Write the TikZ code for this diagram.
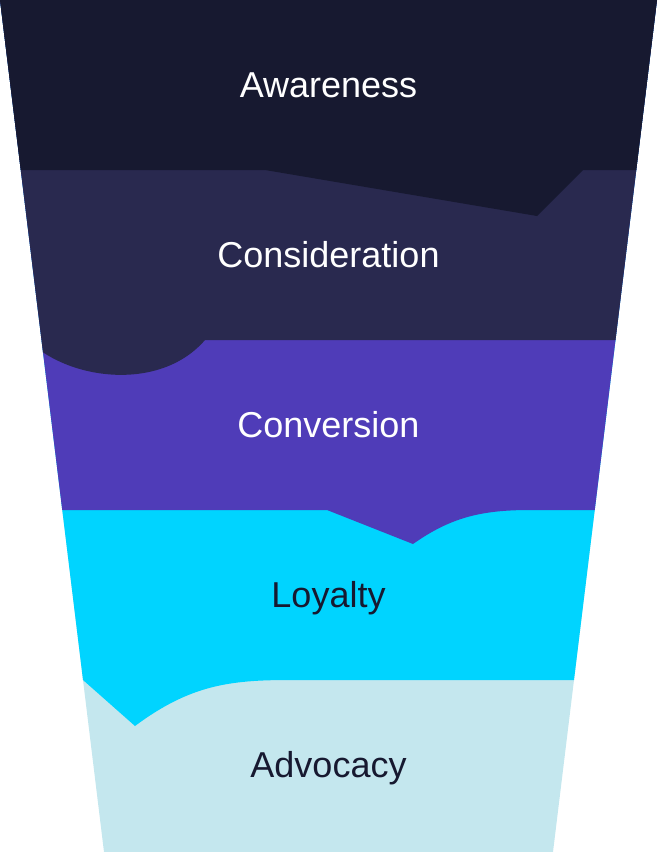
\documentclass[tikz,border=0pt]{standalone}
\usepackage{fontspec}
\setmainfont{Liberation Sans}
\definecolor{awareC}{HTML}{171930}
\definecolor{consC}{HTML}{29294F}
\definecolor{convC}{HTML}{4F3CB8}
\definecolor{loyalC}{HTML}{00D4FF}
\definecolor{advoC}{HTML}{C4E7EE}
\tikzset{
  stagelabel/.style={anchor=base,font=\fontsize{36}{40}\selectfont,text=white},
  darklabel/.style={stagelabel,text=awareC}
}
\begin{document}
\begin{tikzpicture}[x=1pt,y=-1pt]
\useasboundingbox (0,0) rectangle (657,852);
\clip (0,0) -- (657,0) -- (553,852) -- (104,852) -- cycle;
% whole funnel, then each band from its lower edge upwards
\fill[advoC] (0,0) rectangle (657,852);
\fill[loyalC] (-20,-10) -- (680,-10) -- (680,680) -- (290,680)
  .. controls (230,680) and (190,685) .. (135,726) -- (83,680) -- (-20,680) -- cycle;
\fill[convC] (-20,-10) -- (680,-10) -- (680,510) -- (530,510)
  .. controls (480,510) and (450,518) .. (413,544) -- (327,510) -- (-20,510) -- cycle;
\fill[consC] (-20,-10) -- (680,-10) -- (680,340) -- (205,340)
  .. controls (160,392) and (70,380) .. (30,342) -- (-20,342) -- cycle;
\fill[awareC] (-20,-10) -- (680,-10) -- (680,170) -- (583,170) -- (537,216)
  -- (265,170) -- (-20,170) -- cycle;

\node[stagelabel] (aware) at (328.5,97) {Awareness};
\node[stagelabel] (consid) at (328.5,267) {Consideration};
\node[stagelabel] (conv) at (328.5,437) {Conversion};
\node[darklabel] (loyal) at (328.5,607) {Loyalty};
\node[darklabel] (advo) at (328.5,777) {Advocacy};
\end{tikzpicture}
\end{document}
